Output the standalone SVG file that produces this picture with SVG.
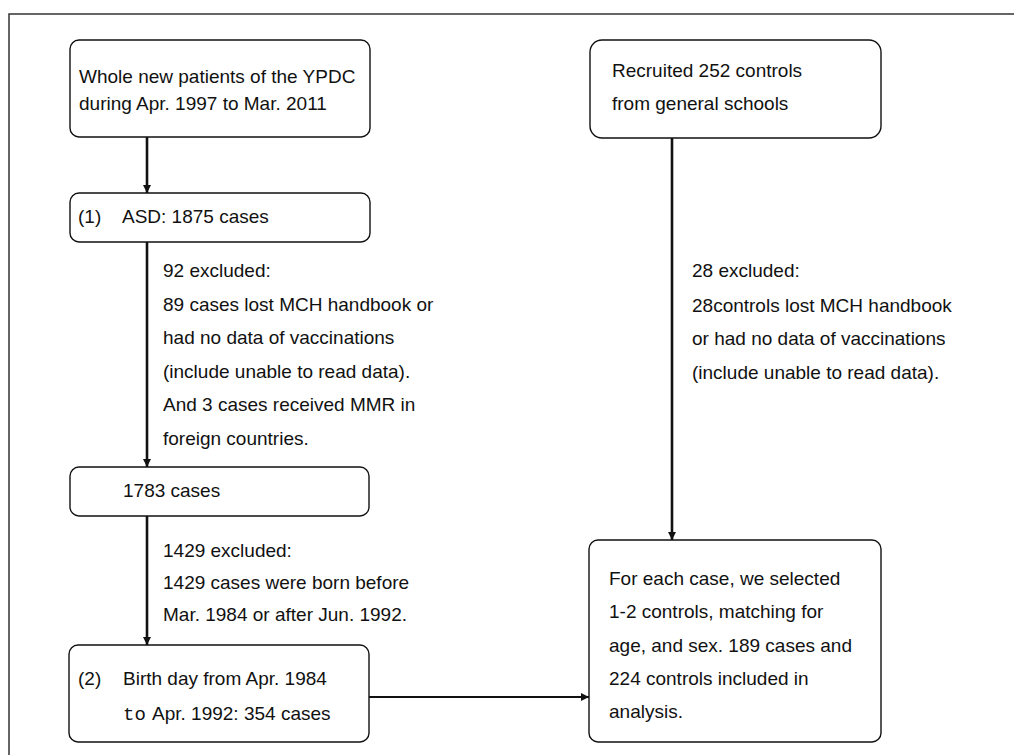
<svg xmlns="http://www.w3.org/2000/svg" width="1015" height="755" viewBox="0 0 1015 755">
<style>
.box{fill:#fff;stroke:#111;stroke-width:1.4}
.t{font-family:"Liberation Sans",Arial,sans-serif;font-size:19px;fill:#111}
.mono{font-family:"Liberation Mono","Courier New",monospace}
.con{stroke:#111;stroke-width:2.6;fill:none}
.frame{stroke:#333;stroke-width:1.5;fill:none}
</style>
<defs>
<marker id="ah" viewBox="0 0 8 10" refX="8" refY="5" markerWidth="8" markerHeight="10" markerUnits="userSpaceOnUse" orient="auto">
<path d="M0,1 L8,5 L0,9 Z" fill="#111"/>
</marker>
</defs>
<rect width="1015" height="755" fill="#fff"/>
<path class="frame" d="M9,755 V14 H1014"/>
<g id="connectors">
<line class="con" x1="147" y1="137" x2="147" y2="193" marker-end="url(#ah)"/>
<line class="con" x1="147" y1="242" x2="147" y2="467" marker-end="url(#ah)"/>
<line class="con" x1="147" y1="516" x2="147" y2="645" marker-end="url(#ah)"/>
<line class="con" x1="672" y1="138" x2="672" y2="540" marker-end="url(#ah)"/>
<line class="con" style="stroke-width:2.2" x1="369" y1="697" x2="589" y2="697" marker-end="url(#ah)"/>
</g>
<g id="n_whole">
<rect class="box" x="70" y="40" width="300" height="97" rx="9"/>
<text class="t" x="79" y="83">Whole new patients of the YPDC</text>
<text class="t" x="79" y="110">during Apr. 1997 to Mar. 2011</text>
</g>
<g id="n_asd">
<rect class="box" x="70" y="193" width="300" height="49" rx="9"/>
<text class="t" x="78" y="223">(1) <tspan x="122">ASD: 1875 cases</tspan></text>
</g>
<g id="n_excl92">
<text class="t" x="163" y="277">92 excluded:</text>
<text class="t" x="163" y="311">89 cases lost MCH handbook or</text>
<text class="t" x="163" y="344">had no data of vaccinations</text>
<text class="t" x="163" y="378">(include unable to read data).</text>
<text class="t" x="163" y="411">And 3 cases received MMR in</text>
<text class="t" x="163" y="445">foreign countries.</text>
</g>
<g id="n_1783">
<rect class="box" x="70" y="467" width="299" height="49" rx="9"/>
<text class="t" x="123" y="497">1783 cases</text>
</g>
<g id="n_excl1429">
<text class="t" x="163" y="557">1429 excluded:</text>
<text class="t" x="163" y="589">1429 cases were born before</text>
<text class="t" x="163" y="621">Mar. 1984 or after Jun. 1992.</text>
</g>
<g id="n_birth">
<rect class="box" x="69" y="645" width="300" height="97" rx="9"/>
<text class="t" x="78" y="685">(2) <tspan x="123">Birth day from Apr. 1984</tspan></text>
<text class="t" x="123" y="720"><tspan class="mono">to</tspan> <tspan x="152">Apr. 1992: 354 cases</tspan></text>
</g>
<g id="n_recruit">
<rect class="box" x="590" y="40" width="291" height="98" rx="12"/>
<text class="t" x="612" y="77">Recruited 252 controls</text>
<text class="t" x="612" y="110">from general schools</text>
</g>
<g id="n_excl28">
<text class="t" x="692" y="277">28 excluded:</text>
<text class="t" x="692" y="312">28controls lost MCH handbook</text>
<text class="t" x="692" y="345">or had no data of vaccinations</text>
<text class="t" x="692" y="379">(include unable to read data).</text>
</g>
<g id="n_final">
<rect class="box" x="589" y="540" width="292" height="202" rx="9"/>
<text class="t" x="609" y="585">For each case, we selected</text>
<text class="t" x="609" y="618">1-2 controls, matching for</text>
<text class="t" x="609" y="652">age, and sex. 189 cases and</text>
<text class="t" x="609" y="685">224 controls included in</text>
<text class="t" x="609" y="718">analysis.</text>
</g>
</svg>
